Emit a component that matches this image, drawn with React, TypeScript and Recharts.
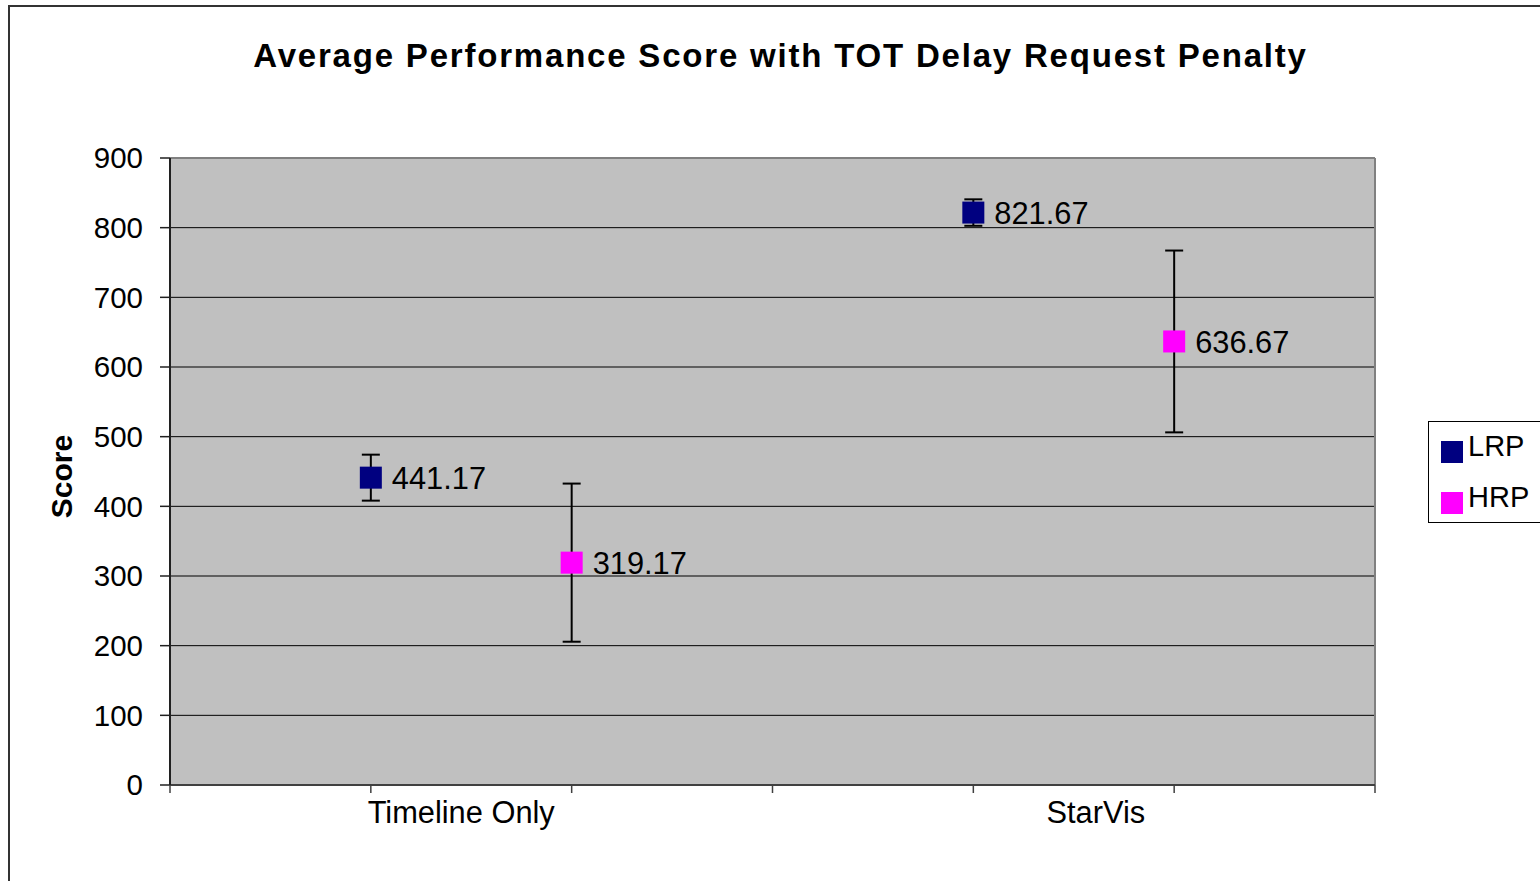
import React from 'react';
import {
  ScatterChart,
  Scatter,
  XAxis,
  YAxis,
  CartesianGrid,
  ErrorBar,
  LabelList,
  Legend,
  ReferenceLine,
} from 'recharts';

// ---- data ----
const title = 'Average Performance Score with TOT Delay Request Penalty';
const categories = ['Timeline Only', 'StarVis'];
const categoryLabelX = [1.45, 4.61];
const gridTicks = [0, 1, 2, 3, 4, 5, 6];
const yTicks = [0, 100, 200, 300, 400, 500, 600, 700, 800, 900];

const lrpX = [1, 4];
const lrpMeans = [441.17, 821.67];
const lrpErr = [33, 19];

const hrpX = [2, 5];
const hrpMeans = [319.17, 636.67];
const hrpErr = [113.5, 130.5];

const LRP_COLOR = '#000080';
const HRP_COLOR = '#FF00FF';
const FONT = '"Liberation Sans", Arial, sans-serif';

const lrpData = categories.map((c, i) => ({ cat: c, x: lrpX[i], y: lrpMeans[i], err: lrpErr[i] }));
const hrpData = categories.map((c, i) => ({ cat: c, x: hrpX[i], y: hrpMeans[i], err: hrpErr[i] }));
const allXTicks = [...gridTicks, ...categoryLabelX].sort((a, b) => a - b);

const squareShape = (color: string) => (props: any) => {
  const { cx, cy } = props;
  if (cx == null || cy == null) return <g />;
  return <rect x={cx - 11} y={cy - 11} width={22} height={22} fill={color} />;
};

const PointLabel = (props: any) => {
  const { x, y, width, height, value } = props;
  const cx = x + (width || 0) / 2;
  const cy = y + (height || 0) / 2;
  return (
    <text x={cx + 21} y={cy} dy="0.36em" fontSize={30.8} fontFamily={FONT} fill="#000">
      {String(value)}
    </text>
  );
};

const XTick = (props: any) => {
  const { x, y, payload } = props;
  const v = payload?.value;
  const ci = categoryLabelX.indexOf(v);
  if (ci >= 0) {
    return (
      <text x={x} y={y + 38} textAnchor="middle" fontSize={30.8} fontFamily={FONT} fill="#000">
        {categories[ci]}
      </text>
    );
  }
  return <line x1={x} y1={y} x2={x} y2={y + 8} stroke="#404040" strokeWidth={1.5} />;
};

const YLabel = (props: any) => {
  const vb = props.viewBox || { x: 0, y: 158, width: 170, height: 627 };
  const cx = vb.x + 61;
  const cy = vb.y + vb.height / 2 + 5;
  return (
    <text
      x={cx}
      y={cy}
      transform={`rotate(-90 ${cx} ${cy})`}
      textAnchor="middle"
      dominantBaseline="central"
      fontSize={30}
      fontWeight="bold"
      fontFamily={FONT}
      fill="#000"
    >
      Score
    </text>
  );
};

const LegendBox = () => {
  const items = [
    { name: 'LRP', color: LRP_COLOR },
    { name: 'HRP', color: HRP_COLOR },
  ];
  return (
    <div
      style={{
        position: 'relative',
        width: 130,
        height: 102,
        border: '1px solid #000',
        background: '#fff',
        boxSizing: 'border-box',
        fontFamily: FONT,
      }}
    >
      {items.map((it, i) => (
        <React.Fragment key={it.name}>
          <div
            style={{
              position: 'absolute',
              left: 12,
              top: 19 + i * 51,
              width: 22,
              height: 22,
              background: it.color,
            }}
          />
          <div
            style={{
              position: 'absolute',
              left: 39,
              top: 10 + i * 51,
              fontSize: 29,
              lineHeight: '29px',
              color: '#000',
              whiteSpace: 'nowrap',
            }}
          >
            {it.name}
          </div>
        </React.Fragment>
      ))}
    </div>
  );
};

export default function App() {
  return (
    <div
      style={{
        position: 'absolute',
        left: 0,
        top: 0,
        width: 1540,
        height: 881,
        overflow: 'hidden',
        background: '#fff',
        fontFamily: FONT,
      }}
    >
      <div
        style={{
          position: 'absolute',
          left: 8,
          top: 5,
          width: 1700,
          height: 1000,
          borderLeft: '2px solid #333',
          borderTop: '2px solid #333',
          pointerEvents: 'none',
        }}
      />
      <div
        style={{
          position: 'absolute',
          left: 0,
          top: 39,
          width: 1561,
          textAlign: 'center',
          fontSize: 33,
          lineHeight: '33px',
          fontWeight: 'bold',
          letterSpacing: 1.8,
          color: '#000',
          whiteSpace: 'nowrap',
        }}
      >
        {title}
      </div>
      <ScatterChart
        width={1540}
        height={881}
        margin={{ top: 158, right: 165, bottom: 0, left: 0 }}
        style={{ position: 'absolute', left: 0, top: 0 }}
      >
        <CartesianGrid
          vertical={false}
          stroke="#000"
          strokeWidth={1}
          fill="#C0C0C0"
          fillOpacity={1}
        />
        <XAxis
          type="number"
          dataKey="x"
          domain={[0, 6]}
          ticks={allXTicks}
          interval={0}
          tick={<XTick />}
          tickLine={false}
          tickSize={0}
          tickMargin={0}
          height={96}
          axisLine={{ stroke: '#404040', strokeWidth: 2 }}
        />
        <YAxis
          type="number"
          dataKey="y"
          domain={[0, 900]}
          ticks={yTicks}
          interval={0}
          width={170}
          tickSize={10}
          tickMargin={17}
          axisLine={{ stroke: '#202020', strokeWidth: 2 }}
          tickLine={{ stroke: '#202020', strokeWidth: 1.5 }}
          tick={{ fontSize: 29.5, fill: '#000', fontFamily: FONT }}
          label={<YLabel />}
        />
        <ReferenceLine y={900} stroke="#808080" strokeWidth={2} />
        <ReferenceLine x={6} stroke="#808080" strokeWidth={2} />
        <Legend
          layout="vertical"
          align="center"
          verticalAlign="middle"
          content={<LegendBox />}
          wrapperStyle={{ left: 1428, top: 421, width: 130, height: 102 }}
        />
        <Scatter
          name="LRP"
          data={lrpData}
          fill={LRP_COLOR}
          shape={squareShape(LRP_COLOR)}
          isAnimationActive={false}
        >
          <ErrorBar dataKey="err" direction="y" width={9} stroke="#000" strokeWidth={2} />
          <LabelList dataKey="y" content={<PointLabel />} />
        </Scatter>
        <Scatter
          name="HRP"
          data={hrpData}
          fill={HRP_COLOR}
          shape={squareShape(HRP_COLOR)}
          isAnimationActive={false}
        >
          <ErrorBar dataKey="err" direction="y" width={9} stroke="#000" strokeWidth={2} />
          <LabelList dataKey="y" content={<PointLabel />} />
        </Scatter>
      </ScatterChart>
    </div>
  );
}
